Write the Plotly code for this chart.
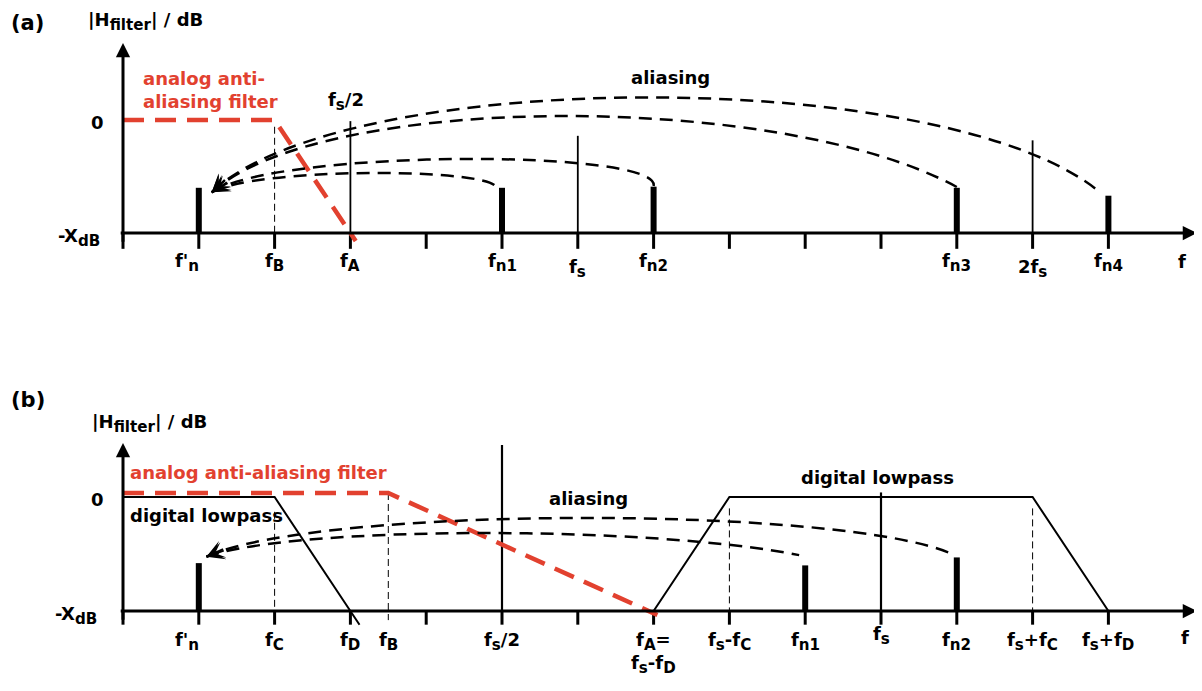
import math
import plotly.graph_objects as go

# ---------------- panel (a) data ----------------
a_ticks = list(range(14))
a_label_pos = [1, 2, 3, 5, 6, 7, 11, 12, 13]
a_label_txt = ["f'<sub>n</sub>", "f<sub>B</sub>", "f<sub>A</sub>", "f<sub>n1</sub>",
               "f<sub>s</sub>", "f<sub>n2</sub>", "f<sub>n3</sub>", "2f<sub>s</sub>", "f<sub>n4</sub>"]
a_comp_pos = [1, 5, 7, 11, 13]
a_comp_lvl = [0.40, 0.40, 0.41, 0.40, 0.33]
a_mark_pos = [3, 6, 12]          # fs/2, fs, 2fs
a_mark_lvl = [0.99, 0.86, 0.82]
a_aaf_f = [0, 2, 3.07]
a_aaf_lvl = [1, 1, -0.07]
a_guide_pos = [2]
a_guide_top = [0.94]
a_guide_bot = [0.0]
a_arc_tip = [1.17, 0.36]
a_arc_end_f = [4.9, 7.0, 11.0, 12.9]
a_arc_end_lvl = [0.425, 0.416, 0.407, 0.354]
a_arc_peak_f = [3.13, 4.45, 5.77, 6.95]
a_arc_peak_lvl = [0.53, 0.655, 1.035, 1.20]

# ---------------- panel (b) data ----------------
b_ticks = list(range(14))
b_label_pos = [1, 2, 3, 3.5, 5, 7, 8, 9, 10, 11, 12, 13]
b_label_txt = ["f'<sub>n</sub>", "f<sub>C</sub>", "f<sub>D</sub>", "f<sub>B</sub>",
               "f<sub>s</sub>/2", "f<sub>A</sub>=<br>f<sub>s</sub>-f<sub>D</sub>",
               "f<sub>s</sub>-f<sub>C</sub>", "f<sub>n1</sub>", "f<sub>s</sub>",
               "f<sub>n2</sub>", "f<sub>s</sub>+f<sub>C</sub>", "f<sub>s</sub>+f<sub>D</sub>"]
b_comp_pos = [1, 9, 11]
b_comp_lvl = [0.42, 0.40, 0.47]
b_mark_pos = [5, 10]             # fs/2, fs
b_mark_lvl = [1.456, 1.04]
b_aaf_f = [0, 3.5, 7.05]
b_aaf_lvl = [1.035, 1.035, -0.035]
b_lp_f = [0, 2, 3.12]
b_lp_lvl = [1, 1, -0.12]
b_lp_img_f = [7, 8, 12, 13]
b_lp_img_lvl = [0, 1, 1, 0]
b_guide_pos = [2, 3.5, 8, 12]
b_guide_top = [0.87, 1.035, 0.9, 0.9]
b_guide_bot = [0.0, -0.08, 0.0, 0.0]
b_arc_tip = [1.10, 0.476]
b_arc_end_f = [8.92, 10.94]
b_arc_end_lvl = [0.49, 0.50]
b_arc_peak_f = [4.71, 6.03]
b_arc_peak_lvl = [0.684, 0.816]

# ---------------- geometry / style ----------------
OFF = 8                      # page body margin of the html page
W, H = 1202 - OFF, 691 - OFF  # figure size
PX0, PXU = 123.0 - OFF, 75.8
A_Y0, A_YU = 233.0 - OFF, 113.0
B_Y0, B_YU = 611.0 - OFF, 114.0
SPLIT = 345.0 - OFF
RED = "#e2412f"
FONT = "DejaVu Sans"
TS = 18

fig = go.Figure()


def add_segs(x0, y0, x1, y1, yax, width, color="black", dash="solid"):
    X, Y = [], []
    for a, b, c, d in zip(x0, y0, x1, y1):
        X += [a, c, None]
        Y += [b, d, None]
    fig.add_trace(go.Scatter(x=X, y=Y, mode="lines", xaxis="x", yaxis=yax,
                             line=dict(color=color, width=width, dash=dash),
                             hoverinfo="skip", showlegend=False))


def add_poly(xs, ys, yax, width, color="black", dash="solid"):
    fig.add_trace(go.Scatter(x=xs, y=ys, mode="lines", xaxis="x", yaxis=yax,
                             line=dict(color=color, width=width, dash=dash),
                             hoverinfo="skip", showlegend=False))


def fmt(t, scale=120):
    return t.replace("<sub>", "<sub><span style='font-size:%d%%'>" % scale).replace("</sub>", "</span></sub>")


def txt(text, x, py, xref="paper", size=TS, color="black", xanchor="center",
        yanchor="middle", align="center"):
    # x, py given in reference-window pixels (or data units for x when xref='x')
    xv = (x - OFF) / W if xref == "paper" else x
    fig.add_annotation(text=fmt(text), x=xv, y=1 - (py - OFF) / H,
                       xref=xref, yref="paper", showarrow=False, xanchor=xanchor,
                       yanchor=yanchor, align=align,
                       font=dict(family=FONT, size=size, color=color, weight="bold"))


def axis_arrows(yref, ytop, ybot):
    fig.add_annotation(x=0, y=ytop, ax=0, ay=ybot, xref="x", yref=yref, axref="x", ayref=yref,
                       text="", showarrow=True, arrowhead=2, arrowsize=0.95, arrowwidth=3,
                       arrowcolor="black")
    fig.add_annotation(x=(1197 - OFF - PX0) / PXU, y=0, ax=-0.05, ay=0, xref="x", yref=yref,
                       axref="x", ayref=yref, text="", showarrow=True, arrowhead=2,
                       arrowsize=0.95, arrowwidth=3, arrowcolor="black")


def arcs(tip, end_f, end_l, pk_f, pk_l, yref, yu):
    x0, y0 = tip
    for x1, y1, px_, py_ in zip(end_f, end_l, pk_f, pk_l):
        D = x1 - x0
        h = (8 * py_ - y0 - y1) / 6.0
        s = (8 * px_ - x0 - x1) / 3.0
        c1x = x0 + 0.15 * D
        c2x = s - c1x
        path = "M%f,%f C%f,%f %f,%f %f,%f" % (x0, y0, c1x, h, c2x, h, x1, y1)
        fig.add_shape(type="path", path=path, xref="x", yref=yref,
                      line=dict(color="black", width=2.5, dash="13px,8px"))
        dx = (c1x - x0) * PXU
        dy = -(h - y0) * yu
        n = math.hypot(dx, dy)
        L = 20
        fig.add_annotation(x=x0, y=y0, xref="x", yref=yref, ax=dx / n * L, ay=dy / n * L,
                           text="", showarrow=True, arrowhead=3, arrowsize=1.5,
                           arrowwidth=2, arrowcolor="black")


# ================= panel (a) =================
YA = "y"
add_segs(a_ticks, [0] * len(a_ticks), a_ticks, [-0.14] * len(a_ticks), YA, 3)
add_segs(a_guide_pos, a_guide_top, a_guide_pos, a_guide_bot, YA, 1, dash="7px,4px")
add_segs(a_mark_pos, [0] * 3, a_mark_pos, a_mark_lvl, YA, 1.8)
add_segs(a_comp_pos, [0] * len(a_comp_pos), a_comp_pos, a_comp_lvl, YA, 6)
add_poly(a_aaf_f, a_aaf_lvl, YA, 4.5, RED, "21px,11px")
arcs(a_arc_tip, a_arc_end_f, a_arc_end_lvl, a_arc_peak_f, a_arc_peak_lvl, YA, A_YU)
axis_arrows(YA, (A_Y0 - (43 - OFF)) / A_YU, -0.09)

# ================= panel (b) =================
YB = "y2"
add_segs(b_ticks, [0] * len(b_ticks), b_ticks, [-0.12] * len(b_ticks), YB, 3)
add_segs(b_guide_pos, b_guide_top, b_guide_pos, b_guide_bot, YB, 1, dash="7px,4px")
add_segs(b_mark_pos, [0] * 2, b_mark_pos, b_mark_lvl, YB, 2.2)
add_segs(b_comp_pos, [0] * len(b_comp_pos), b_comp_pos, b_comp_lvl, YB, 6)
add_poly(b_lp_f, b_lp_lvl, YB, 2)
add_poly(b_lp_img_f, b_lp_img_lvl, YB, 2)
add_poly(b_aaf_f, b_aaf_lvl, YB, 4.5, RED, "21px,11px")
arcs(b_arc_tip, b_arc_end_f, b_arc_end_lvl, b_arc_peak_f, b_arc_peak_lvl, YB, B_YU)
axis_arrows(YB, (B_Y0 - (443 - OFF)) / B_YU, -0.09)

# ================= texts =================
# panel (a)
txt("(a)", 9, 23, size=21, xanchor="left")
txt("|H<sub>filter</sub>| / dB", 86, 21, xanchor="left")
txt("0", 106, 122, xanchor="right")
txt("-X<sub>dB</sub>", 102, 237, xanchor="right")
txt("analog anti-<br>aliasing filter", 141, 90, color=RED, xanchor="left", align="left")
txt("aliasing", 670, 77)
txt("f<sub>s</sub>/2", 346, 102)
txt("f", 1182, 262)
for p, t in zip(a_label_pos, a_label_txt):
    off = -0.15 if t.startswith("f'") else 0
    dy = 6 if t in ("f<sub>s</sub>", "2f<sub>s</sub>") else 0
    txt(t, p + off, 248 + dy, xref="x", yanchor="top")

# panel (b)
txt("(b)", 9, 400, size=21, xanchor="left")
txt("|H<sub>filter</sub>| / dB", 90, 423, xanchor="left")
txt("0", 106, 499, xanchor="right")
txt("-X<sub>dB</sub>", 99, 615, xanchor="right")
txt("analog anti-aliasing filter", 128, 472, color=RED, xanchor="left")
txt("digital lowpass", 128, 515, xanchor="left")
txt("digital lowpass", 877, 477)
txt("aliasing", 588, 498)
txt("f", 1185, 637)
for p, t in zip(b_label_pos, b_label_txt):
    off = -0.15 if t.startswith("f'") else 0
    dy = -6 if t == "f<sub>s</sub>" else 0
    txt(t, p + off, 627 + dy, xref="x", yanchor="top")

# ================= layout =================
fig.update_layout(
    width=W, height=H, margin=dict(l=0, r=0, t=0, b=0),
    paper_bgcolor="white", plot_bgcolor="white", showlegend=False,
    xaxis=dict(domain=[0, 1], range=[-PX0 / PXU, (W - PX0) / PXU], visible=False,
               fixedrange=True),
    yaxis=dict(domain=[1 - SPLIT / H, 1], range=[(A_Y0 - SPLIT) / A_YU, A_Y0 / A_YU],
               visible=False, anchor="x", fixedrange=True),
    yaxis2=dict(domain=[0, 1 - SPLIT / H], range=[(B_Y0 - H) / B_YU, (B_Y0 - SPLIT) / B_YU],
                visible=False, anchor="x", fixedrange=True),
)

fig.write_html("out.html")
